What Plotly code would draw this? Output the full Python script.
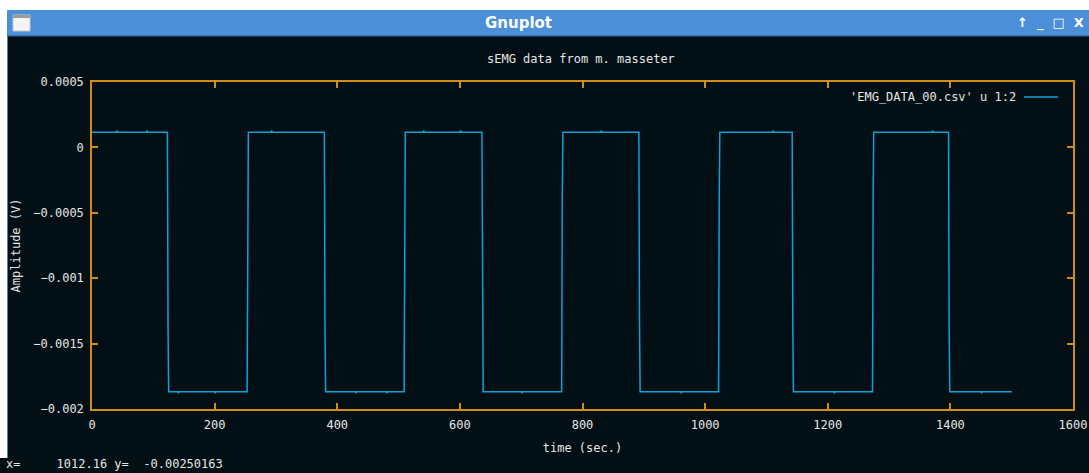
import plotly.graph_objects as go

# sEMG recording (m. masseter): sample times (s) and amplitudes (V)
time_s = [0, 40, 41, 42, 89, 90, 91, 123, 124, 125,
          140, 141, 142, 200, 201, 202, 253, 254, 255,
          292, 293, 294, 379, 380, 381,
          430, 431, 432, 480, 481, 482, 509, 510, 511,
          540, 541, 542, 600, 601, 602, 636, 637, 638,
          700, 701, 702, 766, 767, 768,
          830, 831, 832, 892, 893, 894,
          960, 961, 962, 1022, 1023, 1024,
          1110, 1111, 1112, 1142, 1143, 1144,
          1210, 1211, 1212, 1273, 1274, 1275,
          1370, 1371, 1372, 1397, 1398, 1399,
          1450, 1451, 1452, 1500]
amplitude_v = [0.000115, 0.000115, 0.00013, 0.000115, 0.000115, 0.00013, 0.000115,
               0.000115, -0.00136, -0.001868,
               -0.001868, -0.00188, -0.001868, -0.001868, -0.00188, -0.001868,
               -0.001868, -0.0004, 0.000115,
               0.000115, 0.00013, 0.000115, 0.000115, -0.00136, -0.001868,
               -0.001868, -0.00188, -0.001868, -0.001868, -0.00188, -0.001868,
               -0.001868, -0.0004, 0.000115,
               0.000115, 0.00013, 0.000115, 0.000115, 0.00013, 0.000115,
               0.000115, -0.00136, -0.001868,
               -0.001868, -0.00188, -0.001868, -0.001868, -0.0004, 0.000115,
               0.000115, 0.00013, 0.000115, 0.000115, -0.00136, -0.001868,
               -0.001868, -0.00188, -0.001868, -0.001868, -0.0004, 0.000115,
               0.000115, 0.00013, 0.000115, 0.000115, -0.00136, -0.001868,
               -0.001868, -0.00188, -0.001868, -0.001868, -0.0004, 0.000115,
               0.000115, 0.00013, 0.000115, 0.000115, -0.00136, -0.001868,
               -0.001868, -0.00188, -0.001868, -0.001868]

x_ticks = [0, 200, 400, 600, 800, 1000, 1200, 1400, 1600]
y_ticks = [0.0005, 0, -0.0005, -0.001, -0.0015, -0.002]
y_tick_text = ["0.0005", "0", "\u22120.0005", "\u22120.001", "\u22120.0015", "\u22120.002"]

W, H = 1089, 473
L, R, T, B = 92, 1073, 82, 409   # plot frame in window pixels

BG = "#020f14"
AXIS = "#d38c14"
LINE = "#0ea2d8"
TXT = "#e6e6e6"
MONO = "DejaVu Sans Mono"


def px(x):
    return (x - L) / (R - L)


def py(y):
    return (B - y) / (B - T)


fig = go.Figure()
fig.add_trace(go.Scatter(x=time_s, y=amplitude_v, mode="lines",
                         line=dict(color=LINE, width=1.5),
                         name="'EMG_DATA_00.csv' u 1:2", showlegend=False,
                         hoverinfo="skip"))

axis_common = dict(showline=True, linecolor=AXIS, linewidth=1.5, mirror="ticks",
                   ticks="inside", ticklen=6, tickcolor=AXIS, tickwidth=1.5,
                   showgrid=False, zeroline=False, automargin=False,
                   tickfont=dict(family=MONO, size=12, color=TXT))

fig.update_xaxes(range=[0, 1600], tickvals=x_ticks,
                 ticktext=[str(v) for v in x_ticks], ticklabelstandoff=4,
                 title=dict(text="time (sec.)", font=dict(family=MONO, size=12, color=TXT),
                            standoff=12),
                 **axis_common)
fig.update_yaxes(range=[-0.002, 0.0005], tickvals=y_ticks, ticktext=y_tick_text,
                 ticklabelstandoff=4,
                 title=dict(text="Amplitude (V)", font=dict(family=MONO, size=12, color=TXT),
                            standoff=10),
                 **axis_common)

shapes = []
# white window margins
shapes.append(dict(type="rect", xref="paper", yref="paper",
                   x0=px(0), x1=px(W), y0=py(0), y1=py(10),
                   fillcolor="white", line=dict(width=0), layer="below"))
shapes.append(dict(type="rect", xref="paper", yref="paper",
                   x0=px(0), x1=px(7), y0=py(0), y1=py(458),
                   fillcolor="white", line=dict(width=0), layer="below"))
shapes.append(dict(type="line", xref="paper", yref="paper",
                   x0=px(7.5), x1=px(7.5), y0=py(10), y1=py(458),
                   line=dict(color="#5b7fa8", width=1)))
# window title bar
shapes.append(dict(type="rect", xref="paper", yref="paper",
                   x0=px(7), x1=px(W), y0=py(10), y1=py(36),
                   fillcolor="#4a8fd8", line=dict(width=0)))
shapes.append(dict(type="line", xref="paper", yref="paper",
                   x0=px(7), x1=px(W), y0=py(36), y1=py(36),
                   line=dict(color="#2f5f94", width=1)))
# window menu icon
shapes.append(dict(type="rect", xref="paper", yref="paper",
                   x0=px(13), x1=px(30), y0=py(15), y1=py(31),
                   fillcolor="#f4f4f4", line=dict(color="#c8c8c8", width=1)))
shapes.append(dict(type="rect", xref="paper", yref="paper",
                   x0=px(13), x1=px(30), y0=py(15), y1=py(18),
                   fillcolor="#9a9a9a", line=dict(width=0)))
# legend sample line
shapes.append(dict(type="line", xref="paper", yref="paper",
                   x0=px(1024), x1=px(1058), y0=py(97), y1=py(97),
                   line=dict(color=LINE, width=1.5)))

annotations = [
    dict(text="<b>Gnuplot</b>", x=px(518), y=py(23), xref="paper", yref="paper",
         showarrow=False, font=dict(family="DejaVu Sans", size=15, color="white"),
         xanchor="center", yanchor="middle"),
    dict(text="<b>\u2191  _  \u25a1  X</b>", x=px(1086), y=py(23), xref="paper", yref="paper",
         showarrow=False, font=dict(family="DejaVu Sans", size=13, color="white"),
         xanchor="right", yanchor="middle"),
    dict(text="sEMG data from m. masseter", x=px(581), y=py(59), xref="paper", yref="paper",
         showarrow=False, font=dict(family=MONO, size=12, color=TXT),
         xanchor="center", yanchor="middle"),
    dict(text="'EMG_DATA_00.csv' u 1:2", x=px(1018), y=py(97), xref="paper", yref="paper",
         showarrow=False, font=dict(family=MONO, size=12, color=TXT),
         xanchor="right", yanchor="middle"),
    dict(text="x=     1012.16 y=  -0.00250163", x=px(4), y=py(464), xref="paper", yref="paper",
         showarrow=False, font=dict(family=MONO, size=12, color=TXT),
         xanchor="left", yanchor="middle"),
]

fig.update_layout(width=W, height=H, autosize=False,
                  margin=dict(l=L, r=W - R, t=T, b=H - B, pad=0, autoexpand=False),
                  paper_bgcolor=BG, plot_bgcolor=BG,
                  shapes=shapes, annotations=annotations, showlegend=False)

fig.write_html("out.html", config={"displayModeBar": False})
